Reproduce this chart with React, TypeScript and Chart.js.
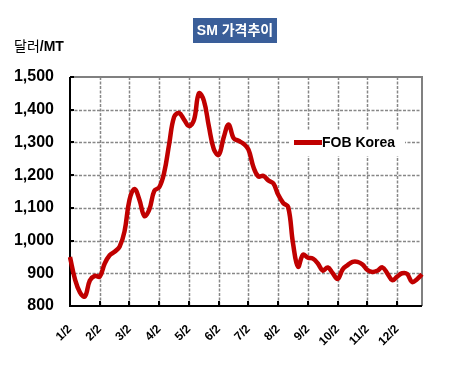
import React, { useEffect, useRef } from "react";
import { Chart, registerables } from "chart.js";

Chart.register(...registerables);

const titleText = "SM 가격추이";
const unitText = ["달러", "/MT"];
const seriesName = "FOB Korea";
const tickLabels = ["1/2", "2/2", "3/2", "4/2", "5/2", "6/2", "7/2", "8/2", "9/2", "10/2", "11/2", "12/2"];
const pointsPerTick = 6;
const yTicks = [800, 900, 1000, 1100, 1200, 1300, 1400, 1500];
const prices = [
  950, 882, 842, 829, 878, 892, 890, 930, 955, 966, 981, 1028,
  1125, 1158, 1125, 1075, 1095, 1152, 1163, 1208, 1295, 1378, 1390, 1370,
  1350, 1368, 1450, 1428, 1350, 1280, 1262, 1315, 1355, 1313, 1305, 1296,
  1278, 1225, 1196, 1198, 1184, 1175, 1140, 1115, 1103, 990, 920, 957,
  948, 945, 930, 908, 918, 900, 883, 912, 925, 935, 935, 927,
  910, 904, 908, 918, 900, 879, 890, 900, 898, 873, 882, 897,
];

const categories = prices.map((_, i) =>
  i % pointsPerTick === 0 && tickLabels[i / pointsPerTick] ? tickLabels[i / pointsPerTick] : ""
);

const FONT = "'Liberation Sans', Arial, 'Noto Sans CJK KR', sans-serif";

const decor = {
  id: "decor",
  beforeDatasetsDraw(chart: any) {
    const { ctx, chartArea: a, scales } = chart;
    const x = scales.x;
    const y = scales.y;
    ctx.save();
    // dashed grid
    ctx.strokeStyle = "#878787";
    ctx.lineWidth = 1.5;
    ctx.setLineDash([3, 1.5]);
    yTicks.forEach((v) => {
      if (v === yTicks[0] || v === yTicks[yTicks.length - 1]) return;
      const py = Math.round(y.getPixelForValue(v)) + 0.5;
      ctx.beginPath();
      ctx.moveTo(a.left, py);
      ctx.lineTo(a.right, py);
      ctx.stroke();
    });
    const tickIdx: number[] = [];
    categories.forEach((_, i) => {
      if (i > 0 && i % pointsPerTick === 0) tickIdx.push(i);
    });
    tickIdx.forEach((i) => {
      const px = Math.round(x.getPixelForValue(i)) + 0.5;
      ctx.beginPath();
      ctx.moveTo(px, a.top);
      ctx.lineTo(px, a.bottom);
      ctx.stroke();
    });
    ctx.setLineDash([]);
    // top and right border (gray)
    ctx.strokeStyle = "#808080";
    ctx.lineWidth = 2;
    ctx.beginPath();
    ctx.moveTo(a.left, a.top);
    ctx.lineTo(a.right, a.top);
    ctx.lineTo(a.right, a.bottom);
    ctx.stroke();
    // legend box
    ctx.fillStyle = "#ffffff";
    ctx.fillRect(289, 130, 116, 26);
    ctx.strokeStyle = "#c00000";
    ctx.lineWidth = 5;
    ctx.beginPath();
    ctx.moveTo(294, 142.5);
    ctx.lineTo(322, 142.5);
    ctx.stroke();
    ctx.fillStyle = "#000";
    ctx.font = `bold 14px ${FONT}`;
    ctx.textBaseline = "middle";
    ctx.textAlign = "left";
    ctx.fillText(seriesName, 322, 143);
    // black axes
    ctx.strokeStyle = "#000";
    ctx.lineWidth = 2;
    ctx.beginPath();
    ctx.moveTo(a.left, a.top);
    ctx.lineTo(a.left, a.bottom);
    ctx.lineTo(a.right, a.bottom);
    ctx.stroke();
    // tick marks (inside)
    ctx.lineWidth = 2;
    tickIdx.forEach((i) => {
      const px = Math.round(x.getPixelForValue(i));
      ctx.beginPath();
      ctx.moveTo(px, a.bottom);
      ctx.lineTo(px, a.bottom - 5);
      ctx.stroke();
    });
    yTicks.forEach((v) => {
      const py = Math.round(y.getPixelForValue(v));
      ctx.beginPath();
      ctx.moveTo(a.left, py);
      ctx.lineTo(a.left + 4, py);
      ctx.stroke();
    });
    ctx.restore();
  },
  afterDraw(chart: any) {
    const { ctx } = chart;
    ctx.save();
    // title box
    ctx.fillStyle = "#3a5e99";
    ctx.fillRect(193, 18, 84, 25);
    ctx.fillStyle = "#ffffff";
    ctx.font = `bold 14px ${FONT}`;
    ctx.textAlign = "center";
    ctx.textBaseline = "middle";
    ctx.fillText(titleText, 235, 31);
    // unit label
    ctx.fillStyle = "#000";
    ctx.textAlign = "left";
    ctx.textBaseline = "alphabetic";
    ctx.font = `14px ${FONT}`;
    ctx.fillText(unitText[0], 14, 51);
    const w = ctx.measureText(unitText[0]).width;
    ctx.font = `bold 14px ${FONT}`;
    ctx.fillText(unitText[1], 14 + w, 51);
    ctx.restore();
  },
};

export default function App() {
  const ref = useRef<HTMLCanvasElement | null>(null);
  useEffect(() => {
    document.body.style.margin = "0";
    const canvas = ref.current;
    if (!canvas) return;
    const chart = new Chart(canvas, {
      type: "line",
      data: {
        labels: categories,
        datasets: [
          {
            label: seriesName,
            data: prices,
            borderColor: "#c00000",
            borderWidth: 4.5,
            pointRadius: 0,
            tension: 0.4,
            fill: false,
          },
        ],
      },
      options: {
        animation: false,
        responsive: false,
        devicePixelRatio: 1,
        layout: { padding: { top: 77, right: 46, left: 0, bottom: 0 } },
        plugins: { legend: { display: false }, tooltip: { enabled: false }, title: { display: false } },
        scales: {
          x: {
            type: "category",
            offset: false,
            grid: { display: false, drawTicks: false },
            border: { display: false },
            ticks: {
              autoSkip: false,
              minRotation: 45,
              maxRotation: 45,
              padding: 16,
              color: "#000",
              font: { family: FONT, weight: "bold", size: 12 },
              callback: (_v: any, i: number) => categories[i],
            },
            afterFit: (s: any) => {
              s.height = 72;
              s.paddingLeft = 0;
              s.paddingRight = 0;
            },
          },
          y: {
            min: 800,
            max: 1500,
            grid: { display: false, drawTicks: false },
            border: { display: false },
            ticks: {
              stepSize: 100,
              padding: 16,
              color: "#000",
              font: { family: FONT, weight: "bold", size: 16 },
              callback: (v: any) => Number(v).toLocaleString("en-US"),
            },
            afterFit: (s: any) => {
              s.width = 70;
              s.paddingTop = 0;
              s.paddingBottom = 0;
            },
          },
        },
      },
      plugins: [decor],
    });
    return () => chart.destroy();
  }, []);
  return (
    <div style={{ width: 468, height: 378, background: "#fff" }}>
      <canvas ref={ref} width={468} height={378} />
    </div>
  );
}
